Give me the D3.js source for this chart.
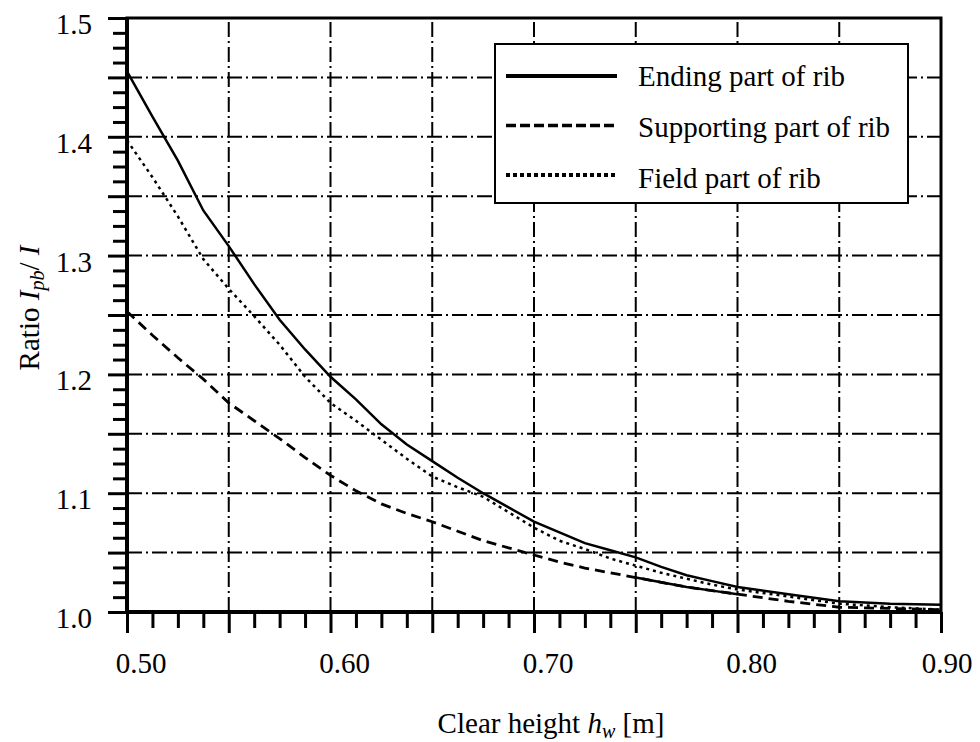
<!DOCTYPE html>
<html>
<head>
<meta charset="utf-8">
<script src="https://cdn.jsdelivr.net/npm/d3@7"></script>
<style>
    body { margin: 0; background: #fff; }
    svg { display: block; }
    text { font-family: "Liberation Serif", "Times New Roman", serif; fill: #000; }
</style>
</head>
<body>
<svg id="canvas" width="980" height="742"></svg>
<script>
// clear height h_w [m]
var hw = [0.500, 0.5125, 0.525, 0.5375, 0.550, 0.5625, 0.575, 0.5875, 0.600, 0.6125,
    0.625, 0.6375, 0.650, 0.6625, 0.675, 0.6875, 0.700, 0.7125, 0.725, 0.7375,
    0.750, 0.7625, 0.775, 0.7875, 0.800, 0.825, 0.850, 0.875, 0.900];

var endingPart = [1.455, 1.417, 1.380, 1.338, 1.308, 1.276, 1.246, 1.221, 1.198, 1.179,
    1.158, 1.141, 1.127, 1.113, 1.100, 1.088, 1.076, 1.067, 1.058, 1.052,
    1.046, 1.038, 1.031, 1.026, 1.021, 1.015, 1.009, 1.007, 1.006];

var supportingPart = [1.253, 1.233, 1.214, 1.196, 1.176, 1.161, 1.146, 1.130, 1.115, 1.102,
    1.091, 1.083, 1.076, 1.068, 1.060, 1.054, 1.048, 1.042, 1.037, 1.033,
    1.029, 1.025, 1.021, 1.018, 1.015, 1.009, 1.004, 1.003, 1.002];

var fieldPart = [1.397, 1.366, 1.333, 1.297, 1.272, 1.249, 1.225, 1.198, 1.176, 1.161,
    1.145, 1.129, 1.114, 1.105, 1.097, 1.084, 1.071, 1.060, 1.053, 1.045,
    1.039, 1.033, 1.028, 1.023, 1.019, 1.013, 1.007, 1.004, 1.002];

var xLabels = ["0.50", "0.60", "0.70", "0.80", "0.90"];
var yLabels = ["1.0", "1.1", "1.2", "1.3", "1.4", "1.5"];
var legendNames = ["Ending part of rib", "Supporting part of rib", "Field part of rib"];

var svg = d3.select(document.getElementById('canvas'));

var x = d3.scaleLinear().domain([0.5, 0.9]).range([127, 941]);
var y = d3.scaleLinear().domain([1.0, 1.5]).range([612, 18]);

var minorX = d3.range(0, 33).map(function(i) { return 0.5 + i * 0.0125; });
var minorY = d3.range(0, 41).map(function(i) { return 1.0 + i * 0.0125; });
var majorX = d3.range(0, 9).map(function(i) { return 0.5 + i * 0.05; });
var majorY = d3.range(0, 11).map(function(i) { return 1.0 + i * 0.05; });

// grid
var grid = svg.append('g')
    .attr('stroke', '#000')
    .attr('stroke-width', 2)
    .attr('stroke-dasharray', '15,4,2,4');
grid.selectAll('line.gx')
    .data(majorX.slice(1, -1))
    .enter().append('line')
    .attr('class', 'gx')
    .attr('x1', function(d) { return x(d); })
    .attr('x2', function(d) { return x(d); })
    .attr('y1', y(1.0))
    .attr('y2', y(1.5));
grid.selectAll('line.gy')
    .data(majorY.slice(1, -1))
    .enter().append('line')
    .attr('class', 'gy')
    .attr('x1', x(0.5))
    .attr('x2', x(0.9))
    .attr('y1', function(d) { return y(d); })
    .attr('y2', function(d) { return y(d); });

// ticks
function isMajor(d) {
    return Math.abs(d / 0.05 - Math.round(d / 0.05)) < 1e-6;
}
svg.append('g')
    .attr('transform', 'translate(' + x(0.5) + ',0)')
    .call(d3.axisLeft(y).tickValues(minorY).tickFormat('').tickSizeOuter(0))
    .call(function(g) {
        g.select('.domain').remove();
        g.selectAll('.tick line')
            .attr('x2', function(d) { return isMajor(d) ? -19 : -14; })
            .attr('stroke-width', 3);
    });
svg.append('g')
    .attr('transform', 'translate(0,' + y(1.0) + ')')
    .call(d3.axisBottom(x).tickValues(minorX).tickFormat('').tickSizeOuter(0))
    .call(function(g) {
        g.select('.domain').remove();
        g.selectAll('.tick line')
            .attr('y2', function(d) { return isMajor(d) ? 21 : 16; })
            .attr('stroke-width', 3);
    });

// frame
svg.append('rect')
    .attr('x', x(0.5))
    .attr('y', y(1.5))
    .attr('width', x(0.9) - x(0.5))
    .attr('height', y(1.0) - y(1.5))
    .attr('fill', 'none')
    .attr('stroke', '#000')
    .attr('stroke-width', 3);
svg.append('line')
    .attr('x1', x(0.5) - 1).attr('x2', x(0.9) + 1)
    .attr('y1', y(1.0)).attr('y2', y(1.0))
    .attr('stroke', '#000').attr('stroke-width', 4);
svg.append('line')
    .attr('x1', x(0.5)).attr('x2', x(0.5))
    .attr('y1', y(1.5) - 1).attr('y2', y(1.0) + 1)
    .attr('stroke', '#000').attr('stroke-width', 4);

// tick labels
svg.selectAll('text.ylab')
    .data(yLabels)
    .enter().append('text')
    .attr('class', 'ylab')
    .attr('x', 92)
    .attr('y', function(d) { return y(+d) + 16; })
    .attr('text-anchor', 'end')
    .attr('font-size', '29px')
    .text(function(d) { return d; });
svg.selectAll('text.xlab')
    .data(xLabels)
    .enter().append('text')
    .attr('class', 'xlab')
    .attr('x', function(d, i) { return x(+d) + (i === xLabels.length - 1 ? 6 : 14); })
    .attr('y', 673)
    .attr('text-anchor', 'middle')
    .attr('font-size', '29px')
    .text(function(d) { return d; });

// axis titles
var xt = svg.append('text')
    .attr('x', 551)
    .attr('y', 733)
    .attr('text-anchor', 'middle')
    .attr('font-size', '29px');
xt.append('tspan').text('Clear height ');
xt.append('tspan').attr('font-style', 'italic').text('h');
xt.append('tspan').attr('font-style', 'italic').attr('font-size', '20px').attr('dy', 5).text('w');
xt.append('tspan').attr('dy', -5).text(' [m]');

var yt = svg.append('text')
    .attr('transform', 'translate(39,308) rotate(-90)')
    .attr('text-anchor', 'middle')
    .attr('font-size', '29px');
yt.append('tspan').text('Ratio ');
yt.append('tspan').attr('font-style', 'italic').text('I');
yt.append('tspan').attr('font-style', 'italic').attr('font-size', '20px').attr('dy', 5).text('pb');
yt.append('tspan').attr('dy', -5).text('/ ');
yt.append('tspan').attr('font-style', 'italic').text('I');

// curves
var line = d3.line()
    .x(function(d) { return x(d[0]); })
    .y(function(d) { return y(d[1]); });

function pairs(values) {
    return hw.map(function(h, i) { return [h, values[i]]; });
}

var styles = [
    { values: endingPart, width: 2.5, dash: null },
    { values: supportingPart, width: 2.8, dash: '10,6' },
    { values: fieldPart, width: 2.5, dash: '3,4' }
];

svg.selectAll('path.curve')
    .data(styles)
    .enter().append('path')
    .attr('class', 'curve')
    .attr('d', function(s) { return line(pairs(s.values)); })
    .attr('fill', 'none')
    .attr('stroke', '#000')
    .attr('stroke-width', function(s) { return s.width; })
    .attr('stroke-dasharray', function(s) { return s.dash; });

// the supporting curve comes out solid between 0.75 and 0.80
svg.append('path')
    .attr('d', line(pairs(supportingPart).filter(function(p) { return p[0] >= 0.7499 && p[0] <= 0.8001; })))
    .attr('fill', 'none')
    .attr('stroke', '#000')
    .attr('stroke-width', 2.5);

// legend
var legend = svg.append('g');
legend.append('rect')
    .attr('x', 495)
    .attr('y', 44)
    .attr('width', 413)
    .attr('height', 159)
    .attr('fill', '#fff')
    .attr('stroke', '#000')
    .attr('stroke-width', 2);

var legendStyles = [
    { width: 4, dash: null },
    { width: 3.5, dash: '10,4' },
    { width: 4, dash: '4,3' }
];
legend.selectAll('line.key')
    .data(legendStyles)
    .enter().append('line')
    .attr('class', 'key')
    .attr('x1', 506)
    .attr('x2', 617)
    .attr('y1', function(d, i) { return 76 + i * 49.5; })
    .attr('y2', function(d, i) { return 76 + i * 49.5; })
    .attr('stroke', '#000')
    .attr('stroke-width', function(d) { return d.width; })
    .attr('stroke-dasharray', function(d) { return d.dash; });
legend.selectAll('text.key')
    .data(legendNames)
    .enter().append('text')
    .attr('class', 'key')
    .attr('x', 638)
    .attr('y', function(d, i) { return 86 + i * 51; })
    .attr('font-size', '29px')
    .text(function(d) { return d; });
</script>
</body>
</html>
